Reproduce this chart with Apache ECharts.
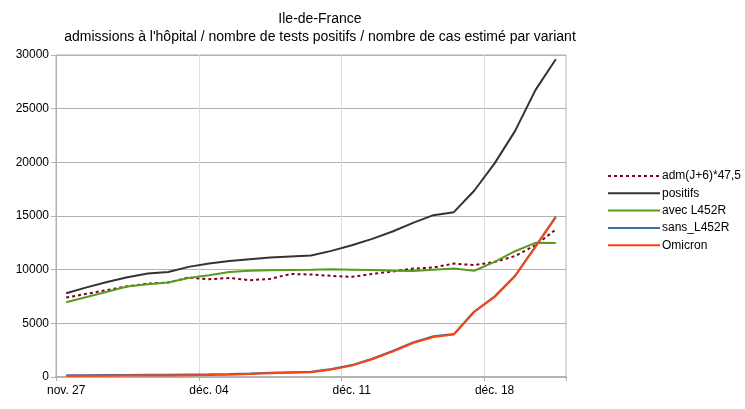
<!DOCTYPE html>
<html>
<head>
<meta charset="utf-8">
<script src="https://cdn.jsdelivr.net/npm/echarts@6/dist/echarts.min.js"></script>
<style>html,body{margin:0;padding:0;background:#fff;}#c{width:745px;height:409px;}</style>
</head>
<body>
<div id="c"></div>
<script>
const categories = ['nov. 27','nov. 28','nov. 29','nov. 30','déc. 01','déc. 02','déc. 03','déc. 04','déc. 05','déc. 06','déc. 07','déc. 08','déc. 09','déc. 10','déc. 11','déc. 12','déc. 13','déc. 14','déc. 15','déc. 16','déc. 17','déc. 18','déc. 19','déc. 20','déc. 21'];
const adm = [7400,7750,8100,8450,8700,8800,9270,9110,9230,9020,9140,9600,9550,9420,9330,9600,9830,10100,10200,10570,10420,10720,11260,12280,13740];
const positifs = [7800,8350,8850,9300,9640,9790,10260,10570,10800,10975,11130,11225,11320,11750,12280,12870,13560,14360,15080,15360,17350,19900,22910,26730,29600];
const avec = [6970,7450,7950,8430,8640,8800,9230,9480,9790,9900,9950,9980,10000,10030,10000,9960,9900,9880,10000,10100,9900,10720,11720,12500,12480];
const sans = [160,170,180,190,200,210,230,250,280,330,390,450,490,740,1110,1700,2420,3220,3790,4000,6100,7500,9430,12150,14950];
const omicron = [100,110,120,130,140,150,170,190,220,280,340,400,440,690,1060,1650,2370,3170,3730,3950,6060,7460,9390,12120,14860];
const legendNames = ['adm(J+6)*47,5','positifs','avec L452R','sans_L452R','Omicron'];

const chart = echarts.init(document.getElementById('c'), null, {renderer:'canvas'});
const font = 'Liberation Sans, Arial, sans-serif';
function line(name, data, color, extra) {
  return Object.assign({
    name, type:'line', data, symbol:'none', smooth:false,
    lineStyle:{color, width:2}, itemStyle:{color}, animation:false
  }, extra || {});
}
chart.setOption({
  animation:false,
  title:{
    text:'Ile-de-France\nadmissions à l\'hôpital / nombre de tests positifs / nombre de cas estimé par variant',
    left:315, top:5, textAlign:'center',
    textStyle:{fontFamily:font, fontSize:14, fontWeight:'normal', color:'#000', lineHeight:18}
  },
  grid:{left:56, right:179, top:55, bottom:32, show:true, borderColor:'#b3b3b3', borderWidth:1},
  legend:{
    orient:'vertical', left:607, top:168, padding:0, itemWidth:52, itemHeight:14, itemGap:1.3,
    itemStyle:{opacity:0},
    textStyle:{fontFamily:font, fontSize:12, color:'#000', padding:[0,0,0,-3], lineHeight:16, height:16},
    data:legendNames
  },
  xAxis:{
    type:'category', data:categories, boundaryGap:true,
    axisLine:{lineStyle:{color:'#b3b3b3', width:2}},
    axisTick:{show:true, interval:6, length:4, lineStyle:{color:'#b3b3b3'}},
    axisLabel:{interval:6, fontFamily:font, fontSize:12, color:'#000', margin:8},
    splitLine:{show:true, interval:6, lineStyle:{color:'#dddddd', width:1}}
  },
  yAxis:{
    type:'value', min:0, max:30000, interval:5000,
    axisLine:{show:true, lineStyle:{color:'#b3b3b3'}},
    axisTick:{show:true, length:5, lineStyle:{color:'#b3b3b3'}},
    axisLabel:{fontFamily:font, fontSize:12, color:'#000', margin:7, formatter:function(v){return String(v);}},
    splitLine:{lineStyle:{color:'#b3b3b3', width:1}}
  },
  series:[
    line(legendNames[0], adm, '#7e0021', {lineStyle:{color:'#7e0021', width:2, type:[3,3]}}),
    line(legendNames[1], positifs, '#333333'),
    line(legendNames[2], avec, '#579d1c'),
    line(legendNames[3], sans, '#3b6ea5'),
    line(legendNames[4], omicron, '#ff420e')
  ]
});
</script>
</body>
</html>
